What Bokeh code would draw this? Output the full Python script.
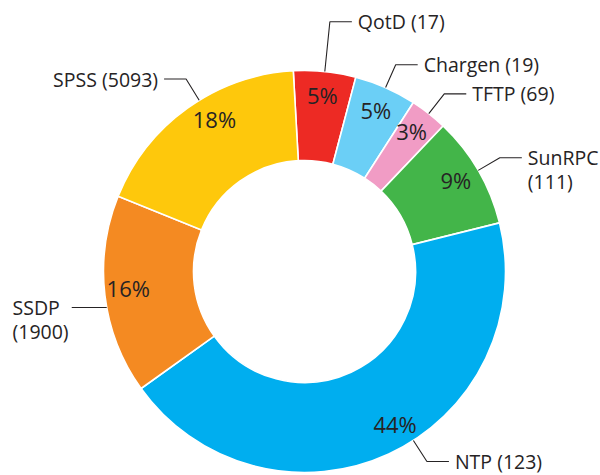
import numpy as np
from bokeh.plotting import figure
from bokeh.models import Range1d, ColumnDataSource
from bokeh.core.properties import value
from bokeh.embed import file_html
from bokeh.resources import INLINE

# ---- data ----
names = ["QotD", "Chargen", "TFTP", "SunRPC", "NTP", "SSDP", "SPSS"]
counts = [17, 19, 69, 111, 123, 1900, 5093]
shares = [5, 5, 3, 9, 44, 16, 18]
colors = ["#ED2A24", "#6BCFF6", "#F19CC5", "#43B549", "#00AEEF", "#F48A22", "#FEC80C"]

# ---- layout (not data) ----
W, H = 600, 475
CX, CY = 304, 204          # centre in page-pixel units (y measured upward)
R_OUT, R_IN, R_PCT = 201, 111, 177
START_DEG = -3.2           # clockwise from 12 o'clock
pct_offset = [0, 0, -1, -1, -6, 1.5, 5]
leader_offset = [0, 0, 0, 0, -8, -3.5, 4]
elbow_r = [251, 226, 226, 226, 226, 201, 226]
arm = [22, 22, 22, 22, 22, 35, 22]
two_lines = [False, False, False, True, False, True, False]
GAP = 6
LINE_STEP = 24
LEFT_MARGIN = 12
FONT = value("Open Sans")
INK = "#262324"

p = figure(width=W, height=H, output_backend="svg", toolbar_location=None,
           x_range=Range1d(0, W), y_range=Range1d(0, H),
           min_border=0)
p.axis.visible = False
p.grid.visible = False
p.outline_line_color = None
p.background_fill_color = "white"

total = float(sum(shares))
fr = np.array(shares) / total * 360.0
cum = np.concatenate([[0], np.cumsum(fr)])
theta0 = START_DEG + cum[:-1]
theta1 = START_DEG + cum[1:]
mid = (theta0 + theta1) / 2

src = ColumnDataSource(dict(
    start=np.radians(90 - theta0), end=np.radians(90 - theta1), color=colors))
p.annular_wedge(x=CX, y=CY, inner_radius=R_IN, outer_radius=R_OUT,
                start_angle="start", end_angle="end", direction="clock",
                fill_color="color", line_color="white", line_width=1.6, source=src)

# percentage labels
pa = np.radians(mid + np.array(pct_offset))
p.text(x=CX + R_PCT * np.sin(pa), y=CY + R_PCT * np.cos(pa),
       text=[f"{s}%" for s in shares], text_font=FONT, text_font_size="22px",
       text_color=INK, text_align="center", text_baseline="middle")

# leader lines and outer labels
xs, ys = [], []
rx, ry, rt = [], [], []
lx, ly, lt = [], [], []
llx, lly, llt = [], [], []
for i, n in enumerate(names):
    a = np.radians(mid[i] + leader_offset[i])
    ax_, ay_ = CX + R_OUT * np.sin(a), CY + R_OUT * np.cos(a)
    ex, ey = CX + elbow_r[i] * np.sin(a), CY + elbow_r[i] * np.cos(a)
    side = 1 if np.sin(a) >= 0 else -1
    hx = ex + side * arm[i]
    xs.append([ax_, ex, hx])
    ys.append([ay_, ey, ey])
    lines = [n, f"({counts[i]})"] if two_lines[i] else [f"{n} ({counts[i]})"]
    for k, t in enumerate(lines):
        yy = ey - k * LINE_STEP
        if side > 0:
            rx.append(hx + GAP); ry.append(yy); rt.append(t)
        elif two_lines[i]:
            llx.append(LEFT_MARGIN); lly.append(yy); llt.append(t)
        else:
            lx.append(hx - GAP); ly.append(yy); lt.append(t)

p.multi_line(xs=xs, ys=ys, line_color=INK, line_width=1.1)
for X, Y, T, al in ((rx, ry, rt, "left"), (lx, ly, lt, "right"), (llx, lly, llt, "left")):
    p.text(x=X, y=Y, text=T, text_font=FONT, text_font_size="19.5px",
           text_color=INK, text_align=al, text_baseline="middle")

open("out.html", "w").write(file_html(p, INLINE))
